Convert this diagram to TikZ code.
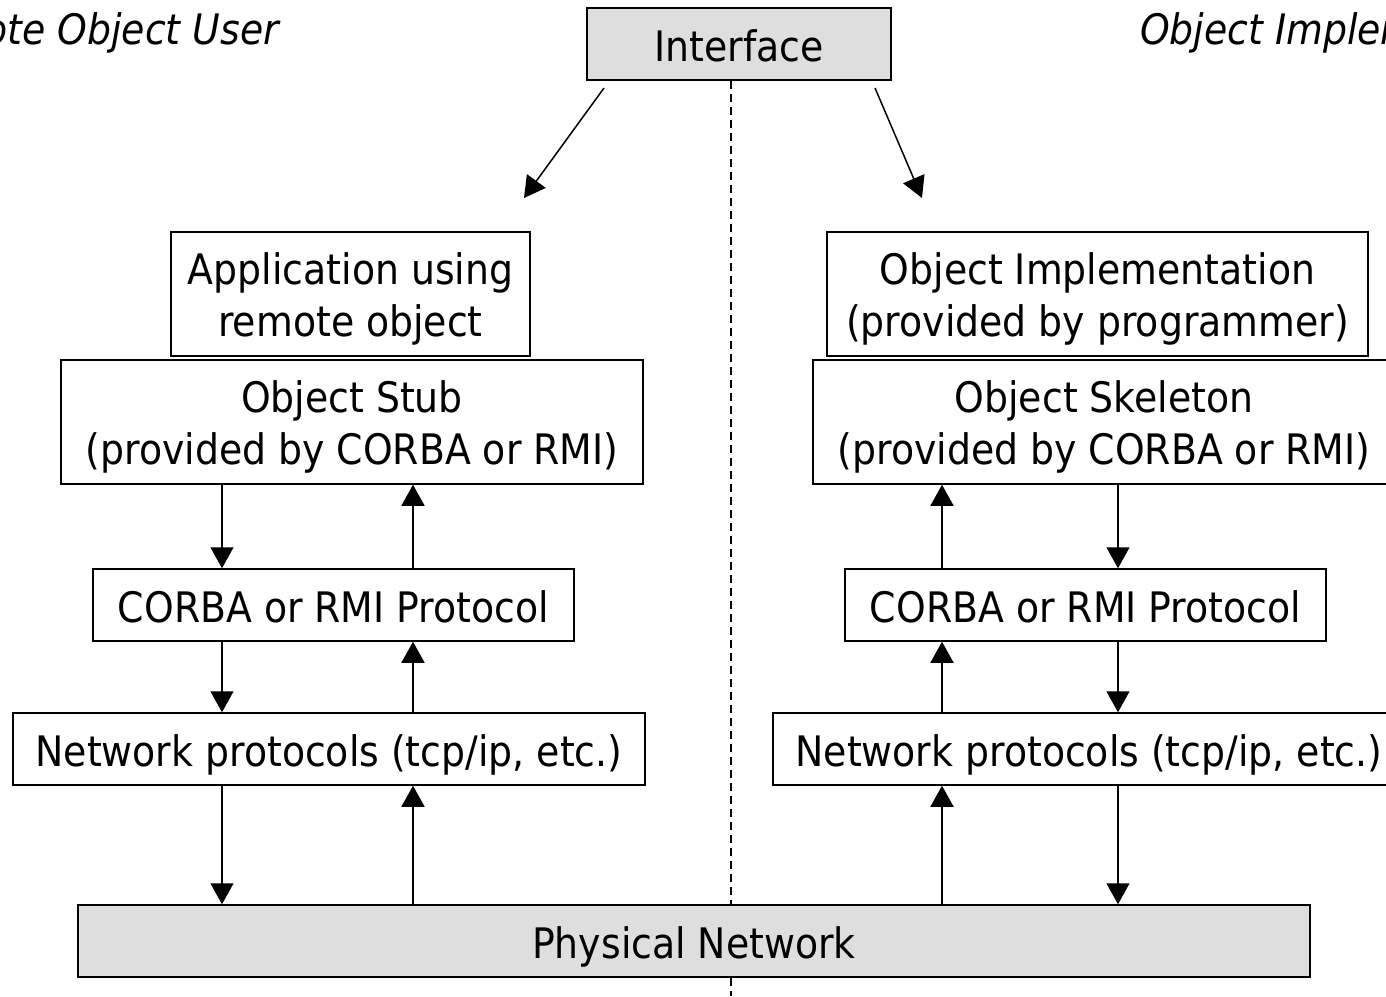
\documentclass[tikz,border=0pt]{standalone}
\usepackage{fontspec}
\setmainfont[FakeStretch=0.9]{DejaVu Sans}
\usetikzlibrary{arrows.meta}
\begin{document}
\begin{tikzpicture}[x=0.5pt,y=-0.5pt,
  font=\fontsize{21pt}{26pt}\selectfont,
  box/.style={draw=black, line width=0.75pt, inner sep=0pt, fill=white},
  grey/.style={box, fill=black!13},
  wide/.style={minimum height=62pt, align=center},
  narrow/.style={minimum height=36pt, text height=21.8pt, text depth=4pt},
  arr/.style={line width=0.75pt, -{Triangle[length=10.5pt,width=11.5pt]}},
  sep/.style={line width=0.6pt, dash pattern=on 4pt off 2.5pt},
  side/.style={font=\fontsize{21pt}{26pt}\selectfont\itshape}]
\clip (0,0) rectangle (1386,996);
\newcommand{\firstline}{\rule{0pt}{21pt}}
% nodes
\node[grey, narrow, minimum width=152pt] (iface) at (739,44) {Interface};
\node[box, wide, minimum width=179.5pt] (app) at (350.5,294) {\firstline Application using\\remote object};
\node[box, wide, minimum width=291pt] (stub) at (352,422) {\firstline Object Stub\\(provided by CORBA or RMI)};
\node[box, narrow, minimum width=240.5pt] (protL) at (333.5,605) {CORBA or RMI Protocol};
\node[box, narrow, minimum width=316pt] (netL) at (329,749) {Network protocols (tcp/ip, etc.)};
\node[grey, narrow, minimum width=616pt] (phys) at (694,941) {Physical Network};
\node[box, wide, minimum width=270.5pt] (impl) at (1097.5,294) {\firstline Object Implementation\\(provided by programmer)};
\node[box, wide, minimum width=291pt] (skel) at (1104,422) {\firstline Object Skeleton\\(provided by CORBA or RMI)};
\node[box, narrow, minimum width=240.5pt] (protR) at (1085.5,605) {CORBA or RMI Protocol};
\node[box, narrow, minimum width=316pt] (netR) at (1089,749) {Network protocols (tcp/ip, etc.)};
\node[side, anchor=base east] (userlbl) at (286,44) {Remote Object User};
\node[side, anchor=base west] (impllbl) at (1133,44) {Object Implementation};
% divider
\coordinate (mid) at (731,0);
\coordinate (bottom) at (731,996);
\draw[sep] (mid |- iface.south) -- (mid |- phys.north);
\draw[sep] (mid |- phys.south) -- (bottom);
% interface arrows
\coordinate (ilS) at (604,88);
\coordinate (ilE) at (524,198);
\coordinate (irS) at (875,88);
\coordinate (irE) at (922,198);
\draw[arr] (ilS) -- (ilE);
\draw[arr] (irS) -- (irE);
% column x positions
\coordinate (a) at (222,0);
\coordinate (b) at (413,0);
\coordinate (c) at (942,0);
\coordinate (d) at (1118,0);
% left arrows
\draw[arr] (a |- stub.south) -- (a |- protL.north);
\draw[arr] (b |- protL.north) -- (b |- stub.south);
\draw[arr] (a |- protL.south) -- (a |- netL.north);
\draw[arr] (b |- netL.north) -- (b |- protL.south);
\draw[arr] (a |- netL.south) -- (a |- phys.north);
\draw[arr] (b |- phys.north) -- (b |- netL.south);
% right arrows
\draw[arr] (c |- protR.north) -- (c |- skel.south);
\draw[arr] (d |- skel.south) -- (d |- protR.north);
\draw[arr] (c |- netR.north) -- (c |- protR.south);
\draw[arr] (d |- protR.south) -- (d |- netR.north);
\draw[arr] (c |- phys.north) -- (c |- netR.south);
\draw[arr] (d |- netR.south) -- (d |- phys.north);
\end{tikzpicture}
\end{document}
